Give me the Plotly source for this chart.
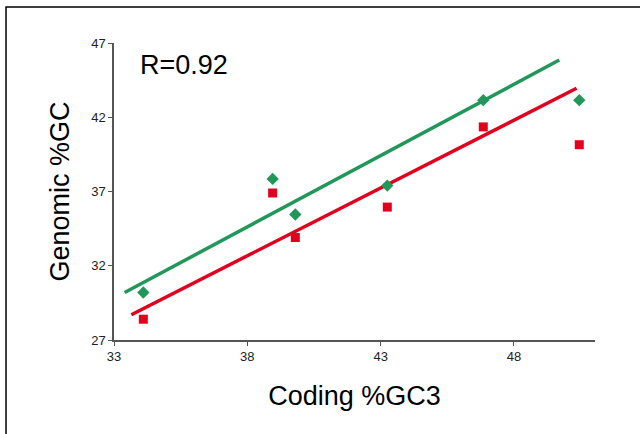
import plotly.graph_objects as go

# Data
coding_gc3 = [34.1, 38.95, 39.8, 43.25, 46.85, 50.45]
genomic_gc_green = [30.2, 37.85, 35.45, 37.4, 43.15, 43.15]
genomic_gc_red = [28.4, 36.9, 33.9, 35.95, 41.35, 40.15]

# Trend line endpoints
green_line_x = [33.4, 49.7]
green_line_y = [30.2, 45.85]
red_line_x = [33.65, 50.35]
red_line_y = [28.7, 43.95]

x_ticks = [33, 38, 43, 48]
y_ticks = [27, 32, 37, 42, 47]

GREEN = "#21985A"
RED = "#E2001F"
FONT = "Liberation Sans, Arial, Helvetica, sans-serif"

fig = go.Figure()
fig.add_trace(go.Scatter(x=green_line_x, y=green_line_y, mode="lines",
                         line=dict(color=GREEN, width=3.5), showlegend=False, hoverinfo="skip"))
fig.add_trace(go.Scatter(x=red_line_x, y=red_line_y, mode="lines",
                         line=dict(color=RED, width=3.5), showlegend=False, hoverinfo="skip"))
fig.add_trace(go.Scatter(x=coding_gc3, y=genomic_gc_green, mode="markers",
                         marker=dict(symbol="diamond", size=9.5, color=GREEN), showlegend=False))
fig.add_trace(go.Scatter(x=coding_gc3, y=genomic_gc_red, mode="markers",
                         marker=dict(symbol="square", size=9, color=RED), showlegend=False))

fig.add_annotation(x=0.05, y=0.925, xref="paper", yref="paper", text="R=0.92",
                   showarrow=False, xanchor="left", yanchor="middle",
                   font=dict(family=FONT, size=27, color="#000000"))

# outer frame
fig.add_shape(type="rect", xref="paper", yref="paper",
              x0=-0.2245, x1=1.2, y0=-0.4, y1=1.1212,
              line=dict(color="#000000", width=1.5), fillcolor="rgba(0,0,0,0)", layer="below")

axis_common = dict(showgrid=False, zeroline=False, showline=True, linecolor="#555555", linewidth=1.5,
                   ticks="outside", ticklen=4, tickwidth=1, tickcolor="#555555",
                   tickfont=dict(family=FONT, size=13, color="#222222"))

fig.update_layout(
    width=640, height=434,
    margin=dict(l=114, r=45, t=43, b=94),
    paper_bgcolor="white", plot_bgcolor="white",
    font=dict(family=FONT),
    xaxis=dict(range=[33, 51.04], tickvals=x_ticks, **axis_common,
               title=dict(text="Coding %GC3", font=dict(family=FONT, size=27, color="#000000"), standoff=23)),
    yaxis=dict(range=[27, 47], tickvals=y_ticks, **axis_common,
               title=dict(text="Genomic %GC", font=dict(family=FONT, size=27, color="#000000"), standoff=14)),
)

fig.write_html("out.html", config={"displayModeBar": False},
               post_script="document.body.style.margin='0';document.body.style.overflow='hidden';")
